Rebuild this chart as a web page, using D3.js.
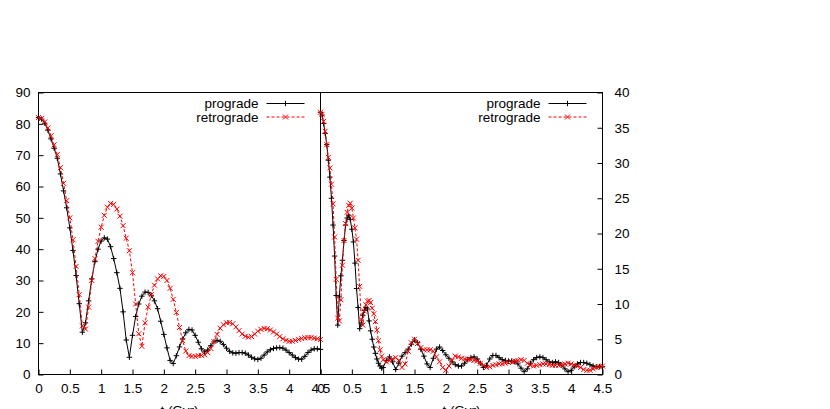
<!DOCTYPE html>
<html>
<head>
<meta charset="utf-8">
<script src="https://cdn.jsdelivr.net/npm/d3@7"></script>
<style>
  body { margin: 0; background: #fff; }
  svg { display: block; }
  text { font-family: "Liberation Sans", Arial, sans-serif; font-size: 13.5px; fill: #000; }
</style>
</head>
<body>
<div id="chart"></div>
<script>
// time grids (Gyr)
const tLeft = d3.range(0, 91).map(i => +(i * 0.05).toFixed(2));
const tRight = [
    ...d3.range(0, 41).map(i => +(i * 0.025).toFixed(3)),
    ...d3.range(21, 91).map(i => +(i * 0.05).toFixed(2))
];

const xTicks = [0, 0.5, 1, 1.5, 2, 2.5, 3, 3.5, 4, 4.5];
const yTicksLeft = [0, 10, 20, 30, 40, 50, 60, 70, 80, 90];
const yTicksRight = [0, 5, 10, 15, 20, 25, 30, 35, 40];
const seriesNames = ["prograde", "retrograde"];

// left panel, 0..4.5 step 0.05
const leftPrograde = [
    82.0, 81.5, 80.2, 78.0, 75.2, 72.2, 69.0, 64.0, 58.6, 53.2,
    46.8, 39.6, 31.6, 22.6, 13.5, 16.5, 23.5, 30.5, 36.0, 40.0,
    42.6, 43.6, 43.2, 40.8, 37.0, 32.5, 27.5, 20.0, 11.0, 5.5,
    12.5, 18.5, 22.5, 25.0, 26.3, 26.2, 25.3, 23.5, 21.0, 17.0,
    12.8, 8.5, 4.5, 3.5, 6.0, 8.8, 11.3, 13.3, 14.4, 14.2,
    12.5, 10.3, 8.2, 7.2, 7.8, 9.2, 10.4, 10.9, 10.6, 9.6,
    8.4, 7.4, 6.9, 6.8, 7.0, 7.0, 6.8, 6.2, 5.5, 5.0,
    4.8, 5.2, 6.2, 7.2, 7.9, 8.3, 8.5, 8.6, 8.4, 7.8,
    7.0, 6.2, 5.4, 4.9, 4.9, 5.8, 7.0, 7.8, 8.2, 8.2,
    8.0
];
const leftRetrograde = [
    82.0, 81.7, 80.6, 78.7, 76.2, 73.3, 70.2, 66.0, 61.0, 55.5,
    50.0, 43.0, 34.5, 25.5, 15.5, 14.5, 21.5, 30.0, 37.0, 42.5,
    47.0, 50.8, 53.4, 54.6, 54.3, 52.8, 50.5, 47.5, 43.5, 39.5,
    32.5, 22.5, 13.0, 9.0, 16.5, 21.5, 25.5, 28.5, 30.5, 31.5,
    31.3, 30.0, 27.5, 24.0, 19.8, 15.0, 10.8, 7.5, 6.0, 5.8,
    5.8, 6.0, 6.1, 6.3, 7.0, 8.3, 10.5, 12.8, 14.8, 15.9,
    16.5, 16.6, 16.2, 15.2, 14.0, 12.9, 12.2, 11.9, 12.1, 12.9,
    13.8, 14.4, 14.7, 14.6, 14.2, 13.6, 12.9, 12.1, 11.4, 10.9,
    10.6, 10.6, 10.9, 11.2, 11.5, 11.7, 11.8, 11.8, 11.6, 11.4,
    11.2
];

// right panel, 0..1 step 0.025 then 1.05..4.5 step 0.05
const rightPrograde = [
    37.2, 36.8, 35.6, 34.2, 32.6, 30.4, 28.0, 25.0, 21.2, 16.8,
    11.2, 7.0, 11.0, 14.0, 16.2, 19.0, 21.2, 22.2, 22.6, 22.0,
    20.6, 18.8, 15.8, 12.2, 9.5, 6.5, 7.3, 8.4, 9.1, 9.5,
    9.3, 7.6, 6.2, 5.0, 3.9, 3.0, 2.2, 1.6, 1.2, 0.9,
    1.0,
    2.0, 2.5, 1.8, 0.7, 1.6, 2.6, 3.1, 3.6, 4.3, 4.9,
    4.5, 3.6, 2.6, 1.5, 1.0, 2.3, 3.6, 3.9, 3.4, 2.8,
    2.3, 1.8, 1.4, 1.2, 1.2, 1.6, 2.1, 2.4, 2.5, 2.2,
    1.6, 1.0, 1.3, 2.2, 2.7, 2.7, 2.4, 2.1, 2.0, 1.9,
    1.9, 1.8, 1.5, 0.9, 0.4, 0.8, 1.6, 2.1, 2.4, 2.5,
    2.4, 2.1, 1.8, 1.7, 1.8, 1.7, 1.3, 0.8, 0.4, 0.6,
    1.1, 1.5, 1.7, 1.7, 1.6, 1.4, 1.2, 1.1, 1.1, 1.1
];
const rightRetrograde = [
    37.2, 36.9, 35.9, 34.5, 32.6, 30.8, 29.3, 27.0, 24.2, 19.5,
    13.5, 8.0, 7.6, 10.6, 15.5, 19.0, 21.4, 23.0, 24.0, 24.3,
    23.6, 22.2, 20.8, 19.2, 16.2, 12.5, 7.8, 7.0, 9.0, 9.9,
    10.4, 10.5, 10.2, 9.4, 8.6, 7.5, 6.3, 4.8, 3.5, 2.6,
    2.1,
    1.8, 2.0, 2.2, 2.4, 2.0, 1.0, 1.5, 3.3, 4.5, 5.0,
    4.4, 3.8, 3.5, 3.5, 3.5, 3.3, 2.5, 1.8, 1.0, 0.6,
    1.2, 2.0, 2.6, 2.5, 2.3, 2.2, 2.2, 2.1, 2.0, 1.9,
    1.6, 1.3, 1.0, 1.1, 1.3, 1.4, 1.5, 1.5, 1.6, 1.7,
    1.8, 1.9, 2.0, 2.1, 2.0, 1.6, 1.3, 1.2, 1.3, 1.4,
    1.5, 1.5, 1.4, 1.3, 1.3, 1.3, 1.4, 1.5, 1.6, 1.5,
    1.3, 1.2, 1.0, 0.7, 0.6, 0.6, 0.8, 1.0, 1.1, 1.2
];

const width = 830, height = 409;
const plotTop = 92.5, plotBottom = 374.5;

const svg = d3.select("#chart").append("svg")
    .attr("width", width)
    .attr("height", height);

const plusPath = "M-2.7,0H2.7M0,-2.7V2.7";
const crossPath = "M-2.5,-2.5L2.5,2.5M-2.5,2.5L2.5,-2.5";

const styles = [
    { color: "#000", dash: null, marker: plusPath },
    { color: "#ff0000", dash: "3,2", marker: crossPath }
];

function drawPanel(cfg) {
    const x = d3.scaleLinear().domain([0, 4.5]).range([cfg.left, cfg.right]);
    const y = d3.scaleLinear().domain([0, cfg.ymax]).range([plotBottom, plotTop]);
    const g = svg.append("g");

    // x axis, inward ticks
    const xAxis = g.append("g")
        .attr("transform", `translate(0,${plotBottom})`)
        .call(d3.axisBottom(x).tickValues(xTicks).tickSize(-5).tickPadding(9).tickFormat(d => d));
    xAxis.select(".domain").remove();

    let yAxis;
    if (cfg.side === "left") {
        yAxis = g.append("g")
            .attr("transform", `translate(${cfg.left},0)`)
            .call(d3.axisLeft(y).tickValues(cfg.yTicks).tickSize(-5).tickPadding(8));
    } else {
        yAxis = g.append("g")
            .attr("transform", `translate(${cfg.right},0)`)
            .call(d3.axisRight(y).tickValues(cfg.yTicks).tickSize(-5).tickPadding(12));
    }
    yAxis.select(".domain").remove();
    g.selectAll(".tick text")
        .style("font-family", "'Liberation Sans', Arial, sans-serif")
        .style("font-size", "13.5px")
        .attr("fill", "#000");
    g.selectAll(".tick line").attr("stroke", "#000");

    // border
    g.append("rect")
        .attr("x", cfg.left)
        .attr("y", plotTop)
        .attr("width", cfg.right - cfg.left)
        .attr("height", plotBottom - plotTop)
        .attr("fill", "none")
        .attr("stroke", "#000")
        .attr("stroke-width", 1);

    const line = d3.line()
        .x(d => x(d[0]))
        .y(d => y(d[1]));

    cfg.series.forEach((vals, k) => {
        const st = styles[k];
        const pts = vals.map((v, i) => [cfg.t[i], v]);
        g.append("path")
            .datum(pts)
            .attr("d", line)
            .attr("fill", "none")
            .attr("stroke", st.color)
            .attr("stroke-width", 1)
            .attr("stroke-dasharray", st.dash);
        g.selectAll(null)
            .data(pts)
            .enter()
            .append("path")
            .attr("transform", d => `translate(${x(d[0])},${y(d[1])})`)
            .attr("d", st.marker)
            .attr("fill", "none")
            .attr("stroke", st.color)
            .attr("stroke-width", 1);
    });

    // legend
    seriesNames.forEach((name, k) => {
        const st = styles[k];
        const ly = 103.5 + k * 13.5;
        g.append("text")
            .attr("x", cfg.right - 62)
            .attr("y", ly)
            .attr("dy", "0.35em")
            .attr("text-anchor", "end")
            .text(name);
        g.append("line")
            .attr("x1", cfg.right - 54)
            .attr("x2", cfg.right - 16)
            .attr("y1", ly)
            .attr("y2", ly)
            .attr("stroke", st.color)
            .attr("stroke-width", 1)
            .attr("stroke-dasharray", st.dash);
        g.append("path")
            .attr("transform", `translate(${cfg.right - 35},${ly})`)
            .attr("d", st.marker)
            .attr("fill", "none")
            .attr("stroke", st.color)
            .attr("stroke-width", 1);
    });

    // x label (cut by the bottom edge, as in the original)
    g.append("text")
        .attr("x", (cfg.left + cfg.right) / 2)
        .attr("y", 415)
        .attr("text-anchor", "middle")
        .text("t (Gyr)");
}

drawPanel({
    left: 38.5, right: 320.5, ymax: 90, yTicks: yTicksLeft, side: "left",
    t: tLeft, series: [leftPrograde, leftRetrograde]
});
drawPanel({
    left: 320.5, right: 602.5, ymax: 40, yTicks: yTicksRight, side: "right",
    t: tRight, series: [rightPrograde, rightRetrograde]
});
</script>
</body>
</html>
